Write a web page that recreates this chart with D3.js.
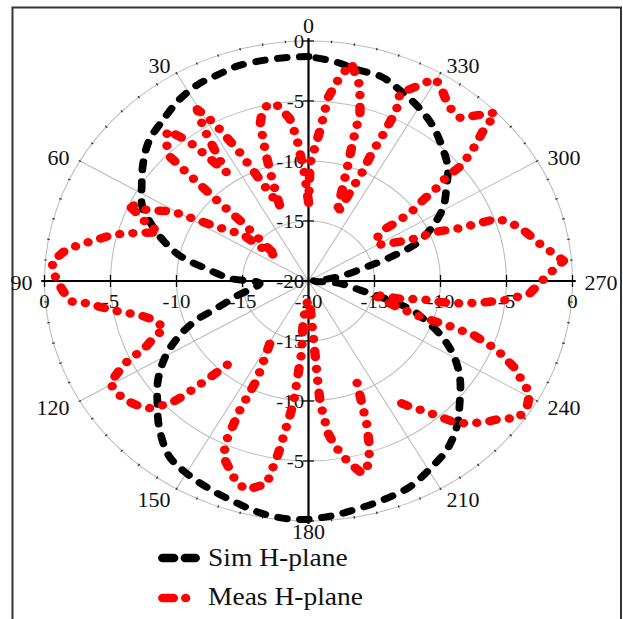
<!DOCTYPE html>
<html>
<head>
<meta charset="utf-8">
<script src="https://cdn.jsdelivr.net/npm/d3@7"></script>
<style>
  html, body { margin: 0; padding: 0; background: #fff; }
  svg { display: block; }
  text { fill: #111; }
</style>
</head>
<body>
<svg id="chart" width="623" height="619" font-family="'Liberation Serif', 'Times New Roman', Times, serif"></svg>
<script>
// Polar H-plane radiation pattern: simulated vs measured (dB)

const angleTicks = [0, 30, 60, 90, 120, 150, 180, 210, 240, 270, 300, 330];
const ringTicks = [-20, -15, -10, -5, 0];
const seriesNames = ["Sim H-plane", "Meas H-plane"];

// simulated pattern
const simAngles = [0,4,10,17,22,27,33,39,46,52,58,64,68,73,78,82,88,93,103,108,111,115,120,126,132,137,144,150,157,164,170,177,184,190,197,204,211,217,223,228,235,241,246,250,253,256,259,265,270,275,279,285,288,291,296,301,307,312,318,324,330,337,342,348,354,360];
const simDb = [-1.3,-1.3,-1.3,-1.3,-1.5,-1.6,-2.0,-2.6,-3.2,-4.1,-5.1,-6.0,-7.1,-8.5,-10.1,-12.0,-14.1,-16.3,-14.4,-12.7,-10.9,-9.2,-7.5,-5.9,-4.6,-3.4,-2.0,-1.5,-1.1,-0.7,-0.3,-0.1,-0.3,-0.6,-0.9,-1.2,-1.9,-2.5,-3.5,-4.6,-6.0,-7.5,-9.1,-10.7,-11.9,-14.2,-16.0,-17.6,-19.6,-19.1,-17.6,-15.4,-13.3,-11.2,-9.5,-8.1,-6.9,-5.8,-4.9,-4.0,-3.3,-2.6,-2.1,-2.0,-1.6,-1.3];

// measured pattern, three recorded sweeps (null = no sample)
const measAnglesA = [0,2,4.3,6,8,9.7,12,14.2,15.6,17,18,19.2,22,26,28.5,30.5,32,33.5,34.5,36.8,37.5,38.1,40.5,43.8,45.4,45.6,45.9,45.8,47.4,50,52.2,52.1,56.3,59,60.6,64.2,64.8,67.2,68.6,70.3,71.8,73.9,75.4,77.2,79.6,80.9,82.5,85.3,88.1,90.2,92.7,95.4,96.3,98.5,100.2,102.5,105.6,109.9,112.1,114.7,115.5,117.4,119.5,123.6,126.6,129.4,131.5,133.2,134.5,135.4,136.1,136.9,137.9,139.1];
const measDbA = [-13.4,-11,-8,-6.4,-5.6,-5,-5,-5.6,-6.4,-9,-11,-13.4,-12,-8,-5,-3.4,-5,-7.6,-9,-6.7,-5.8,-5.1,-3.5,-4.5,-5.3,-7,-10.3,-13.1,-15.4,-16.9,-15.3,-13.7,-12.1,-10.1,-8.2,-6.4,-4.8,-6.2,-6.8,-8,-7.1,-5.7,-4.7,-3.9,-2.7,-2,-1.3,-0.5,-0.7,-1,-1.4,-1.9,-3.1,-4.5,-5.5,-6.9,-7.9,-8.4,-7.3,-6.2,-5,-3.9,-2.7,-2.8,-3.1,-3.5,-4,-4.9,-5.6,-6.7,-7.8,-8.7,-10,-11.1];
const measAnglesB = [150.7,154.6,154.2,154.9,156.2,162.1,165,169.4,171,173.6,175,173,178,183,184.5,184.8,185,186.7,188,190.2,192.4,194.1,195.6,198.3,200.4,201.6,203.5];
const measDbB = [-14,-10.9,-8.1,-5.4,-4,-2.3,-2,-2.8,-5.5,-9.7,-14,-16.7,-18.4,-18.1,-15.3,-11.2,-9.8,-7.2,-6.3,-5.1,-4.2,-3.5,-3.6,-5.2,-7.4,-9,-10.8];
const measAnglesC = [214.7,216.3,219.4,221.4,223.1,225.3,229,231.7,234,237,240.8,245.3,248.1,250.2,250.7,250.6,252.2,255,257,258,260,260,260.6,262,264,266.5,269.4,272,275,280,285.8,288.2,290,291,293,294,297,300,304.6,306.9,306.2,306.7,308,308.4,309.7,309.7,310.6,311.5,313.5,314,314.8,316.8,318.2,319.7,323.9,326.9,328.6,330.4,332.2,336.1,334.9,335.2,335.8,335.8,336.6,337.8,339,340,342.6,343.9,344.4,346.5,349.8,352,354.4,355,356,359.3,360];
const measDbC = [-7.6,-7,-5.9,-4.9,-3.9,-3.1,-2.1,-1.5,-0.5,-0.3,-0.8,-2.9,-4.6,-6.7,-8.9,-11,-13,-14.4,-15,-12.9,-11.2,-9.9,-8.6,-6.9,-4.9,-3.2,-2.5,-1.7,-0.6,-2.2,-3.4,-4.2,-4.8,-7.7,-9.5,-11.6,-13.1,-14,-13.7,-12.9,-11.4,-10.1,-8.8,-7.8,-6.4,-5.1,-4.1,-3.3,-1.7,-0.9,-0.1,-1,-1.6,-2.2,-2,-1.3,-0.9,-0.6,-1.4,-2.9,-4.3,-6.8,-8.3,-10.2,-11.4,-13,-14,-13.4,-10.3,-7.8,-5.5,-3.3,-1.6,-2.8,-4.6,-5.7,-7.4,-10.2,-13.8];

const measAngles = [...measAnglesA, null, ...measAnglesB, null, ...measAnglesC];
const measDb = [...measDbA, null, ...measDbB, null, ...measDbC];

// ---- layout ----
const CX = 308.5, CY = 281;   // pole position on the page
const SX = 1.1;                // horizontal stretch of the whole figure
const R = 240;                 // radius of the 0 dB ring

const svg = d3.select("#chart");

// outer frame (page coordinates)
svg.append("rect")
  .attr("x", 12.5).attr("y", 7.5)
  .attr("width", 608.5).attr("height", 700)
  .attr("fill", "none").attr("stroke", "#333").attr("stroke-width", 2);

const g = svg.append("g").attr("transform", `translate(${CX},${CY}) scale(${SX},1)`);

const r = d3.scaleLinear().domain([-20, 0]).range([0, R]);
const toRad = d => d * Math.PI / 180;
// angles run counter-clockwise from the top
const pt = (deg, rr) => [-rr * Math.sin(toRad(deg)), -rr * Math.cos(toRad(deg))];

// ---- grid ----
const grid = g.append("g").attr("fill", "none").attr("stroke", "#bcbcbc").attr("stroke-width", 1);
grid.selectAll("circle").data(ringTicks.filter(v => v > -20)).join("circle")
  .attr("r", d => r(d));
grid.selectAll("line").data(angleTicks.filter(a => a % 90 !== 0)).join("line")
  .attr("x1", 0).attr("y1", 0)
  .attr("x2", d => pt(d, R)[0]).attr("y2", d => pt(d, R)[1]);

// minor ticks on the outer ring
g.append("g").selectAll("line").data(d3.range(0, 360, 5)).join("line")
  .attr("x1", d => pt(d, R - 1.2)[0]).attr("y1", d => pt(d, R - 1.2)[1])
  .attr("x2", d => pt(d, R + 1.2)[0]).attr("y2", d => pt(d, R + 1.2)[1])
  .attr("stroke", "#333").attr("stroke-width", 1.2);

// ---- axes ----
const axes = g.append("g").attr("stroke", "#000").attr("stroke-width", 2);
axes.append("line").attr("x1", -R - 3).attr("x2", R + 3).attr("y1", 0).attr("y2", 0);
axes.append("line").attr("x1", 0).attr("x2", 0).attr("y1", -R - 3).attr("y2", R + 3);

const axTicks = g.append("g").attr("stroke", "#000").attr("stroke-width", 1.2);
ringTicks.filter(v => v > -20).forEach(v => {
  [-1, 1].forEach(s => {
    axTicks.append("line").attr("x1", s * r(v)).attr("x2", s * r(v)).attr("y1", -6).attr("y2", 6);
    axTicks.append("line").attr("x1", -5).attr("x2", 5).attr("y1", s * r(v)).attr("y2", s * r(v));
  });
});

// radial labels along the vertical axis
const vLab = [];
ringTicks.forEach(v => { vLab.push({ v, y: -r(v) }); if (v > -20 && v < 0) vLab.push({ v, y: r(v) }); });
g.append("g").selectAll("text").data(vLab).join("text")
  .attr("x", -4).attr("y", d => d.y).attr("dy", "0.35em")
  .attr("text-anchor", "end").attr("font-size", 19)
  .text(d => d.v);

// radial labels along the horizontal axis
const hLab = [];
ringTicks.forEach(v => { hLab.push({ v, x: -r(v) }); if (v > -20) hLab.push({ v, x: r(v) }); });
g.append("g").selectAll("text").data(hLab).join("text")
  .attr("x", d => d.x).attr("y", 20).attr("dy", "0.35em")
  .attr("text-anchor", "middle").attr("font-size", 19)
  .text(d => d.v);

// angle labels
g.append("g").selectAll("text").data(angleTicks).join("text")
  .each(function (a) {
    const s = Math.sin(toRad(a)), c = Math.cos(toRad(a));
    const pad = Math.abs(s) < 0.1 ? 13 : 11;
    const [x, y] = pt(a, R + pad);
    d3.select(this)
      .attr("x", x).attr("y", y + (Math.abs(s) < 0.1 ? (c > 0 ? -2 : -2) : 2)).attr("dy", "0.35em")
      .attr("text-anchor", Math.abs(s) < 0.1 ? "middle" : (s > 0 ? "end" : "start"));
  })
  .attr("font-size", 20)
  .text(d => d);

// ---- series ----
const simData = simAngles.map((a, i) => ({ a, db: simDb[i] }));
const measData = measAngles.map((a, i) => ({ a, db: measDb[i] }));

const radial = d3.lineRadial()
  .angle(d => -toRad(d.a))
  .radius(d => r(d.db));

g.append("path")
  .attr("d", radial.curve(d3.curveCatmullRom)(simData))
  .attr("fill", "none").attr("stroke", "#000")
  .attr("stroke-width", 7).attr("stroke-linecap", "round")
  .attr("stroke-dasharray", "8 12");

const measLine = d3.lineRadial()
  .defined(d => d.a !== null && d.db !== null)
  .angle(d => -toRad(d.a))
  .radius(d => r(d.db));

g.append("path")
  .attr("d", measLine(measData))
  .attr("fill", "none").attr("stroke", "#f00")
  .attr("stroke-width", 8.5).attr("stroke-linecap", "round").attr("stroke-linejoin", "round")
  .attr("stroke-dasharray", "6 12 0.01 12 0.01 12");

// ---- legend ----
const leg = g.append("g");
const lx0 = (158 - CX) / SX, lx1 = (200 - CX) / SX;
leg.append("line")
  .attr("x1", lx0 + 4.3).attr("x2", lx1 - 4.3).attr("y1", 277).attr("y2", 277)
  .attr("stroke", "#000").attr("stroke-width", 8.5).attr("stroke-linecap", "round")
  .attr("stroke-dasharray", "10 10.5");
leg.append("line")
  .attr("x1", lx0 + 4.3).attr("x2", lx1 - 4.3).attr("y1", 317).attr("y2", 317)
  .attr("stroke", "#f00").attr("stroke-width", 8.5).attr("stroke-linecap", "round")
  .attr("stroke-dasharray", "9.7 11.2 0.01 11.2 0.01 30");
leg.selectAll("text").data(seriesNames).join("text")
  .attr("x", (208 - CX) / SX).attr("y", (d, i) => 285.5 + i * 39)
  .attr("font-size", 25)
  .text(d => d);
</script>
</body>
</html>
